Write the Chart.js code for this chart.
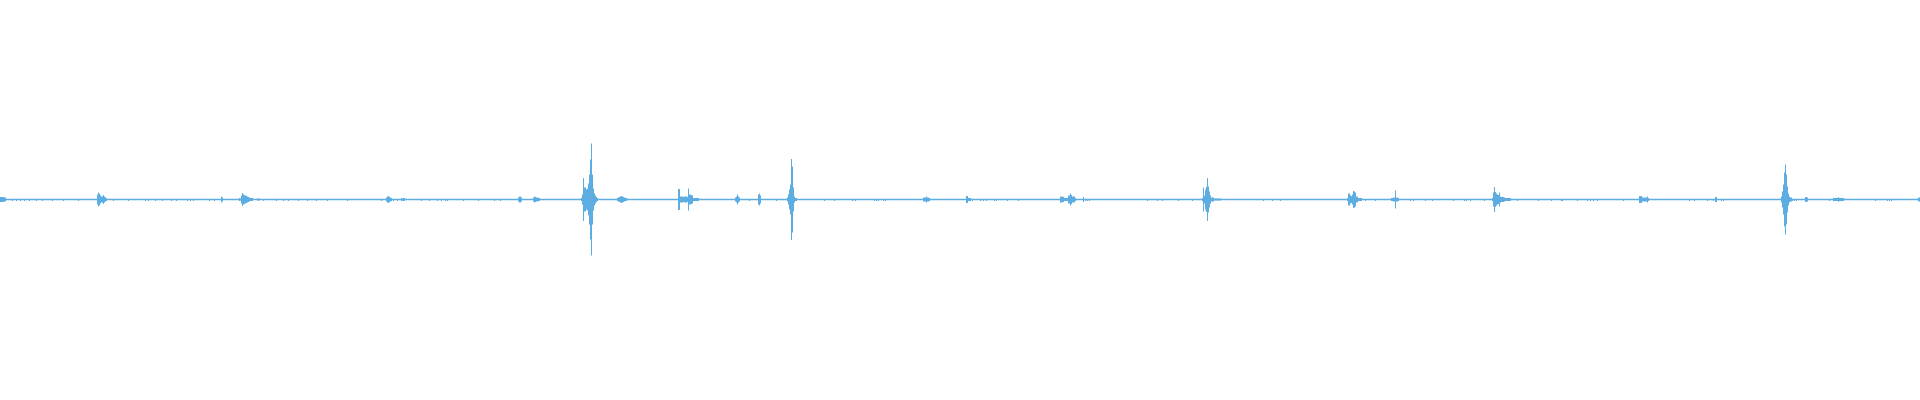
<!DOCTYPE html>
<html lang="en">
<head>
    <meta charset="UTF-8">
    <script src="https://cdn.jsdelivr.net/npm/chart.js"></script>
    <title>Waveform</title>
    <style>
        body { margin: 0; background: #fff; }
        #wave { display: block; }
    </style>
</head>
<body>
    <canvas id="wave" width="1920" height="400"></canvas>

    <script>
        // first column of each burst, then peak amplitude (px) per column
        const burstStart = [0, 97, 221, 239, 257, 386, 401, 518, 533, 581, 617, 678, 735, 758, 787,
            923, 966, 1060, 1083, 1202, 1347, 1391, 1492, 1639, 1715, 1781, 1805, 1833, 1918];
        const burstAmp = [
            [2.5, 2.5, 2.5, 2.5, 2, 2],
            [5, 7, 6, 4, 3, 3, 4.5, 3, 2, 1.5],
            [3, 2],
            [1.5, 1, 4, 6.5, 5, 4.5, 4, 3.5, 3, 2.5, 2, 1.5, 1.5, 1.5],
            [1, 1, 1],
            [2, 3, 3.5, 2.5, 2, 1.5],
            [1.5, 1, 1.5, 1.5],
            [2, 3, 3, 2],
            [2, 3, 2.5, 2, 2, 1.5, 1.5],
            [1.5, 5, 21.5, 12, 12, 10, 11, 16, 25, 40, 56, 25, 11, 6, 4, 2.5, 1.5],
            [1.5, 2, 2.5, 3, 3.5, 3, 2.5, 2, 1.5, 1.5],
            [10.5, 10.5, 3, 3, 3, 2.5, 3, 3, 3, 2.5, 11, 5, 5, 4.5, 4, 1.5, 1.5, 1.5, 1.5, 1.5, 1.5],
            [2, 3, 5, 3, 2],
            [5, 6, 4],
            [2, 5, 10, 15, 40.5, 33, 12, 3, 1.5, 1.5],
            [2, 2, 2, 3, 2, 2, 1.5],
            [3.5, 3.5, 1.5, 1.5, 1.5],
            [3, 3, 3, 2.5, 1.5, 1.5, 1.5, 1.5, 4, 4, 6, 4.5, 3, 3, 3, 1.5],
            [2.5],
            [1.5, 12, 4, 10, 12.5, 21.5, 13, 8, 4, 2, 2, 2, 1, 1, 1, 1, 1, 1, 1],
            [1.5, 6, 6, 4, 3.5, 5, 8.5, 8, 7, 3, 3, 1.5, 1.5, 1.5, 1.5],
            [1.5, 1.5, 2, 2, 9, 2, 2, 1.5],
            [1.5, 7, 12.5, 7.5, 6, 5, 4.5, 7, 3, 2.5, 2.5, 2.5, 2, 1.5, 1.5, 1.5, 1.5, 1.5, 1.5],
            [3.5, 3.5, 3.5, 2, 2, 2, 2, 2, 3, 1.5],
            [2.5, 2.5],
            [3, 8, 15, 27, 35, 25, 13, 6, 3, 2, 2],
            [2.5, 2.5, 2],
            [1.5, 1.5, 1.5, 1.5, 1.5, 2.5, 1.5, 1.5, 1.5, 1.5, 1.5],
            [2, 2]
        ];
        // single-pixel dips just under the line
        const tickX = [12, 16, 20, 24, 29, 36, 42, 52, 63, 78, 113, 128, 145, 148, 155, 162, 171, 176,
            187, 190, 193, 209, 214, 263, 276, 283, 288, 298, 307, 316, 327, 347, 381, 393, 397,
            421, 429, 437, 441, 445, 447, 463, 478, 494, 500, 749, 776, 824, 834,
            852, 855, 874, 876, 878, 883, 885, 972, 980, 983, 986, 994, 996, 1007, 1018,
            1085, 1087, 1089, 1147, 1157, 1162, 1178, 1192, 1263, 1272, 1280,
            1365, 1375, 1410, 1413, 1425, 1432, 1453, 1464, 1466, 1470, 1484, 1517, 1538,
            1551, 1561, 1562, 1577, 1587, 1590, 1593, 1597, 1623, 1689, 1694,
            1707, 1713, 1721, 1723, 1792, 1794, 1796, 1829, 1875, 1887, 1889, 1891];

        const waveColor = '#5DADE2';

        const columns = [];
        burstStart.forEach((start, i) => {
            burstAmp[i].forEach((a, j) => {
                columns.push({ x: start + j + 0.5, y: [-a, a] });
            });
        });
        tickX.forEach(x => columns.push({ x: x + 0.5, y: [-1.5, 0] }));

        new Chart(document.getElementById('wave').getContext('2d'), {
            type: 'bar',
            data: {
                datasets: [{
                    type: 'line',
                    data: [{ x: 0, y: 0 }, { x: 1920, y: 0 }],
                    borderColor: waveColor,
                    borderWidth: 1.5,
                    pointRadius: 0
                }, {
                    data: columns,
                    backgroundColor: waveColor,
                    borderWidth: 0,
                    barThickness: 1,
                    inflateAmount: 0,
                    grouped: false
                }]
            },
            options: {
                responsive: false,
                animation: false,
                devicePixelRatio: 1,
                layout: { padding: 0 },
                plugins: { legend: { display: false }, tooltip: { enabled: false } },
                scales: {
                    x: { type: 'linear', min: 0, max: 1920, offset: false, display: false },
                    y: { min: -200.5, max: 199.5, display: false }
                }
            }
        });
    </script>
</body>
</html>
